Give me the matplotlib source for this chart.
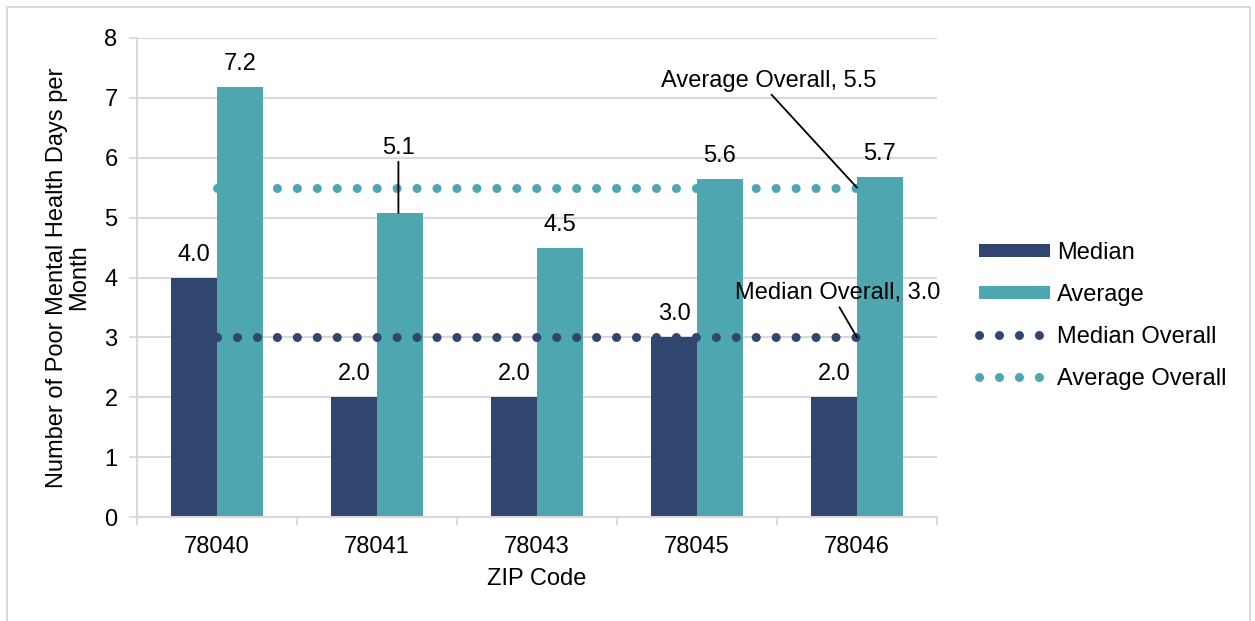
import matplotlib.pyplot as plt
import numpy as np
from matplotlib.patches import Rectangle

plt.rcParams['font.family'] = ['Liberation Sans', 'DejaVu Sans']

zips = ['78040', '78041', '78043', '78045', '78046']
median = [4.0, 2.0, 2.0, 3.0, 2.0]
average = [7.18, 5.08, 4.49, 5.64, 5.68]
median_overall = 3.0
average_overall = 5.5

navy = '#31466F'
teal = '#4EA6B1'
grid = '#D9D9D9'

fig = plt.figure(figsize=(12.55, 6.21), dpi=100)
ax = fig.add_axes([137 / 1255, 1 - 517 / 621, 800 / 1255, 479 / 621])

x = np.arange(len(zips))
w = 0.2875
b1 = ax.bar(x - w / 2, median, w, color=navy, label='Median', zorder=2)
b2 = ax.bar(x + w / 2, average, w, color=teal, label='Average', zorder=2)

dots = dict(linewidth=6.5, linestyle=(0, (0.01, 2.2)), dash_capstyle='round', zorder=3)
l1, = ax.plot(x, [median_overall] * len(x), color=navy, label='Median Overall', **dots)
l2, = ax.plot(x, [average_overall] * len(x), color=teal, label='Average Overall', **dots)

fs = 17
for i in range(len(x)):
    ax.text(x[i] - w / 2, median[i] + 0.2, f'{median[i]:.1f}', ha='center', va='bottom', fontsize=fs)
    if i == 1:
        continue
    ax.text(x[i] + w / 2, average[i] + 0.2, f'{average[i]:.1f}', ha='center', va='bottom', fontsize=fs)

# label for 78041 average sits higher with a leader line
ax.annotate(f'{average[1]:.1f}', xy=(x[1] + w / 2 - 0.01, average[1]), xytext=(x[1] + w / 2 - 0.01, 5.98),
            ha='center', va='bottom', fontsize=fs,
            arrowprops=dict(arrowstyle='-', color='black', lw=1.3, shrinkA=0, shrinkB=0))
ax.annotate(f'Average Overall, {average_overall}', xy=(x[4], average_overall), xytext=(x[4] - 0.55, 7.1),
            ha='center', va='bottom', fontsize=fs,
            arrowprops=dict(arrowstyle='-', color='black', lw=1.3, shrinkA=0, shrinkB=0,
                            relpos=(0.5, 0)))
ax.annotate(f'Median Overall, {median_overall}', xy=(x[4], median_overall), xytext=(x[4] - 0.12, 3.55),
            ha='center', va='bottom', fontsize=fs,
            arrowprops=dict(arrowstyle='-', color='black', lw=1.3, shrinkA=0, shrinkB=0,
                            relpos=(0.5, 0)))

ax.set_xlim(-0.5, len(x) - 0.5)
ax.set_ylim(0, 8)
ax.set_yticks(range(0, 9))
ax.set_xticks(x)
ax.set_xticklabels(zips)
ax.set_xticks(np.arange(-0.5, len(x)), minor=True)
ax.tick_params(axis='x', which='major', length=0, labelsize=fs, pad=14)
ax.tick_params(axis='x', which='minor', length=6, color=grid, width=1.3)
ax.tick_params(axis='y', length=6, color=grid, width=1.3, labelsize=fs, pad=8)
ax.grid(axis='y', color=grid, linewidth=1.5, zorder=0)
ax.set_axisbelow(True)
for s in ['top', 'right']:
    ax.spines[s].set_visible(False)
for s in ['left', 'bottom']:
    ax.spines[s].set_color(grid)
    ax.spines[s].set_linewidth(1.5)

ax.set_xlabel('ZIP Code', fontsize=fs, labelpad=7)
ax.set_ylabel('Number of Poor Mental Health Days per\nMonth', fontsize=fs, labelpad=10, linespacing=1.0)

ax.legend(handles=[b1, b2, l1, l2], loc='center left', bbox_to_anchor=(1.026, 0.42), frameon=False,
          fontsize=fs, handlelength=3.0, handleheight=0.5, handletextpad=0.3, labelspacing=0.85)

fig.patches.append(Rectangle((7 / 1255, -0.01), 1243 / 1255, 1 - 7 / 621 + 0.01, transform=fig.transFigure,
                             fill=False, edgecolor=grid, linewidth=1.5))

fig.savefig('out.png', dpi=100)
